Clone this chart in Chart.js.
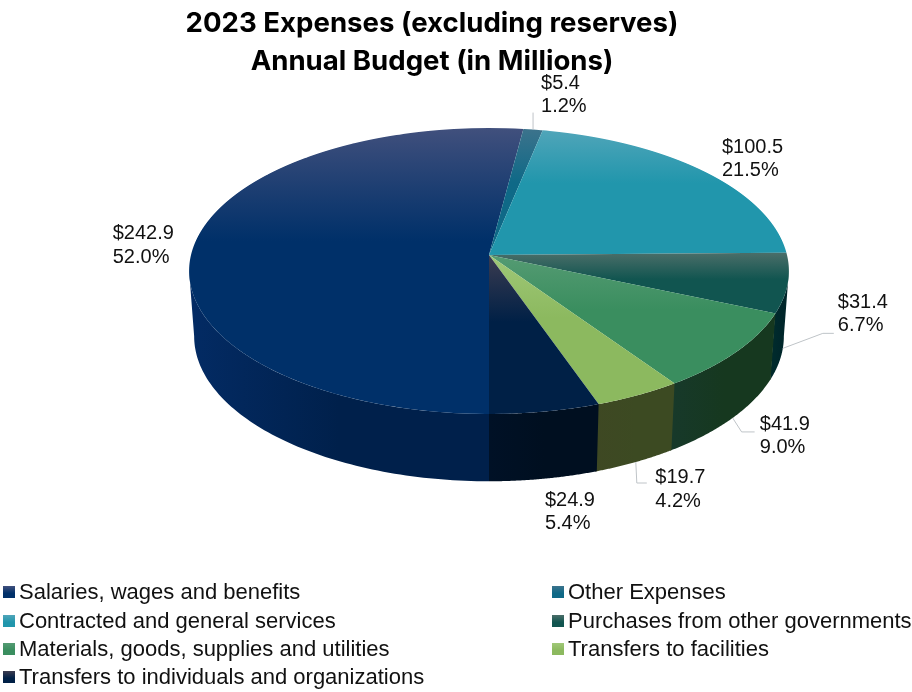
<!DOCTYPE html>
<html>
<head>
<meta charset="utf-8">
<title>2023 Expenses</title>
<script src="https://cdn.jsdelivr.net/npm/chart.js@4"></script>
<style>
    html, body { margin: 0; padding: 0; background: #fff; }
    #wrap { position: relative; width: 912px; height: 692px; overflow: hidden; }
    #chartCanvas { position: absolute; left: 0; top: 0; }
    #legend {
        position: absolute; left: 3px; top: 578px;
        display: grid; grid-template-columns: 549px auto; grid-auto-rows: 28.4px;
        font: 22px "Liberation Sans", Arial, sans-serif; color: #111;
        white-space: nowrap;
    }
    #legend div { display: flex; align-items: center; }
    #legend i { display: block; width: 12px; height: 12px; margin-right: 4px; }
</style>
</head>
<body>
<div id="wrap">
    <canvas id="chartCanvas" width="912" height="692"></canvas>
    <div id="legend"></div>
</div>
<script>
const titleLines = ['2023 Expenses (excluding reserves)', 'Annual Budget (in Millions)'];
const categories = [
    'Salaries, wages and benefits',
    'Other Expenses',
    'Contracted and general services',
    'Purchases from other governments',
    'Materials, goods, supplies and utilities',
    'Transfers to facilities',
    'Transfers to individuals and organizations'
];
const amounts = [242.9, 5.4, 100.5, 31.4, 41.9, 19.7, 24.9];
const percents = ['52.0%', '1.2%', '21.5%', '6.7%', '9.0%', '4.2%', '5.4%'];

// slice colours: base of the face, lighter tint at its top, side wall left/right
const baseColors = ['#003069', '#0f6987', '#2196ac', '#115550', '#3a8e5f', '#8cb95f', '#002046'];
const tintColors = ['#41507d', '#3c738c', '#50a5b9', '#4b6e69', '#559b73', '#a0c878', '#3c3c50'];
const wallLeft = ['#032b64', '#0a4a60', '#166a7a', '#002a2c', '#17392a', '#3e4823', '#001126'];
const wallRight = ['#00204b', '#0a4a60', '#166a7a', '#00262a', '#16381f', '#3c4a22', '#000f20'];

// label and leader line placement, relative to the rim at the middle of each slice
const labelNudge = [[-81, -1], [8, -35], [19, -12], [50, 31], [23, 84], [17, 94], [0, 100]];
const leaderBends = [null, [[0, -17]], null, [[40, -15], [51, -15]], [[9, 14], [22, 14]], [[1, 21], [11, 21]], null];

// projection of the tilted disc: top face and bottom face of the pie
const topFace = { x: 489, y: 255, a: 298, b: 141.2, k: 0.112 };
const bottomFace = { x: 489, y: 320, a: 293, b: 143.2, k: 0.112 };

function project(face, u, v) {
    const w = 1 - face.k * v;
    return { x: face.x + face.a * u / w, y: face.y + face.b * v / w };
}

function sliceAngles(i) {
    const total = amounts.reduce((s, a) => s + a, 0);
    let start = Math.PI / 2;
    for (let n = 0; n < i; n++) start += amounts[n] / total * Math.PI * 2;
    return [start, start + amounts[i] / total * Math.PI * 2];
}

// top-to-bottom gradient over the extent of the one slice
function sliceGradient(context) {
    const i = context.dataIndex;
    const area = context.chart.chartArea;
    if (i === undefined || !area) return baseColors[i || 0];
    const R = Math.min(area.right - area.left, area.bottom - area.top) / 2;
    const cy = (area.top + area.bottom) / 2;
    const [s, e] = sliceAngles(i);
    let vMin = Math.min(0, Math.sin(s), Math.sin(e));
    let vMax = Math.max(0, Math.sin(s), Math.sin(e));
    for (const t of [Math.PI / 2, Math.PI * 2.5]) if (s <= t && t <= e) vMax = 1;
    for (const t of [Math.PI * 1.5, Math.PI * 3.5]) if (s <= t && t <= e) vMin = -1;
    const g = context.chart.ctx.createLinearGradient(0, cy + vMin * R, 0, cy + vMax * R);
    g.addColorStop(0, tintColors[i]);
    g.addColorStop(0.45, baseColors[i]);
    g.addColorStop(1, baseColors[i]);
    return g;
}

// only the part of the rim that faces the viewer gets a wall
function drawWalls(ctx, arcs) {
    const alpha = Math.asin(topFace.k);
    const visible = [[Math.PI / 2, Math.PI - alpha], [Math.PI * 2 + alpha, Math.PI * 2.5]];
    arcs.forEach((arc, i) => {
        visible.forEach(range => {
            const s = Math.max(arc.startAngle, range[0]);
            const e = Math.min(arc.endAngle + 0.006, range[1]);
            if (e <= s) return;
            const top = [], bottom = [];
            const steps = 80;
            for (let n = 0; n <= steps; n++) {
                const a = s + (e - s) * n / steps;
                top.push(project(topFace, Math.cos(a), Math.sin(a)));
                bottom.push(project(bottomFace, Math.cos(a), Math.sin(a)));
            }
            const xs = top.map(p => p.x);
            const g = ctx.createLinearGradient(Math.min(...xs), 0, Math.max(...xs), 0);
            g.addColorStop(0, wallLeft[i]);
            g.addColorStop(0.5, wallRight[i]);
            g.addColorStop(1, wallRight[i]);
            ctx.fillStyle = g;
            ctx.beginPath();
            top.forEach((p, n) => n ? ctx.lineTo(p.x, p.y) : ctx.moveTo(p.x, p.y));
            bottom.reverse().forEach(p => ctx.lineTo(p.x, p.y));
            ctx.closePath();
            ctx.fill();
        });
    });
}

// the library's arcs drawn one pixel row at a time, each row with its own scale
function drawTopFace(chart, meta) {
    const ctx = chart.ctx;
    const arc = meta.data[0];
    const R = arc.outerRadius;
    const f = topFace;
    const yFrom = Math.floor(f.y - f.b / (1 + f.k)) - 1;
    const yTo = Math.ceil(f.y + f.b / (1 - f.k)) + 1;
    for (let y = yFrom; y < yTo; y++) {
        const d = y + 0.5 - f.y;
        const v = d / (f.b + f.k * d);
        const w = 1 - f.k * v;
        const sx = f.a / w / R;
        const sy = f.b / (w * w) / R;
        ctx.save();
        ctx.beginPath();
        ctx.rect(0, y, chart.width, 1);
        ctx.clip();
        ctx.transform(sx, 0, 0, sy, f.x - sx * arc.x, y + 0.5 - sy * (arc.y + v * R));
        meta.controller.draw();
        ctx.restore();
    }
}

const pie3d = {
    id: 'pie3d',
    beforeDatasetsDraw(chart) {
        const meta = chart.getDatasetMeta(0);
        drawWalls(chart.ctx, meta.data);
        drawTopFace(chart, meta);
        return false;
    },
    afterDraw(chart) {
        const ctx = chart.ctx;
        chart.getDatasetMeta(0).data.forEach((arc, i) => {
            const mid = (arc.startAngle + arc.endAngle) / 2;
            const u = Math.cos(mid), v = Math.sin(mid);
            const rim = project(topFace, u, v);
            // leader lines leave from the visible edge of the slice
            if (leaderBends[i]) {
                const from = i === 1 ? rim : project(bottomFace, u, v);
                ctx.strokeStyle = '#bfc4c8';
                ctx.lineWidth = 1;
                ctx.beginPath();
                ctx.moveTo(from.x, from.y);
                leaderBends[i].forEach(b => ctx.lineTo(from.x + b[0], from.y + b[1]));
                ctx.stroke();
            }
            const x = rim.x + labelNudge[i][0];
            const y = rim.y + labelNudge[i][1];
            ctx.fillStyle = '#111';
            ctx.font = '20px "Liberation Sans", Arial, sans-serif';
            ctx.textAlign = 'left';
            ctx.textBaseline = 'middle';
            ctx.fillText('$' + amounts[i].toFixed(1), x, y - 11.5);
            ctx.fillText(percents[i], x, y + 12);
        });
    }
};

function createLegend() {
    const box = document.getElementById('legend');
    categories.forEach((name, i) => {
        const item = document.createElement('div');
        const swatch = document.createElement('i');
        swatch.style.background = 'linear-gradient(' + tintColors[i] + ', ' + baseColors[i] + ' 60%)';
        item.appendChild(swatch);
        item.appendChild(document.createTextNode(name));
        box.appendChild(item);
    });
}

const chart = new Chart(document.getElementById('chartCanvas').getContext('2d'), {
    type: 'pie',
    data: {
        labels: categories,
        datasets: [{
            data: amounts,
            backgroundColor: sliceGradient,
            borderWidth: 0,
            rotation: 180
        }]
    },
    options: {
        responsive: false,
        devicePixelRatio: 1,
        animation: false,
        layout: { padding: { right: 48 } },
        plugins: {
            legend: { display: false },
            tooltip: { enabled: false },
            title: {
                display: true,
                text: titleLines,
                color: '#000',
                font: { family: 'Inter', size: 27.6, weight: '700', lineHeight: 1.37 },
                padding: { top: 5, bottom: 0 }
            }
        }
    },
    plugins: [pie3d]
});

createLegend();
</script>
</body>
</html>
